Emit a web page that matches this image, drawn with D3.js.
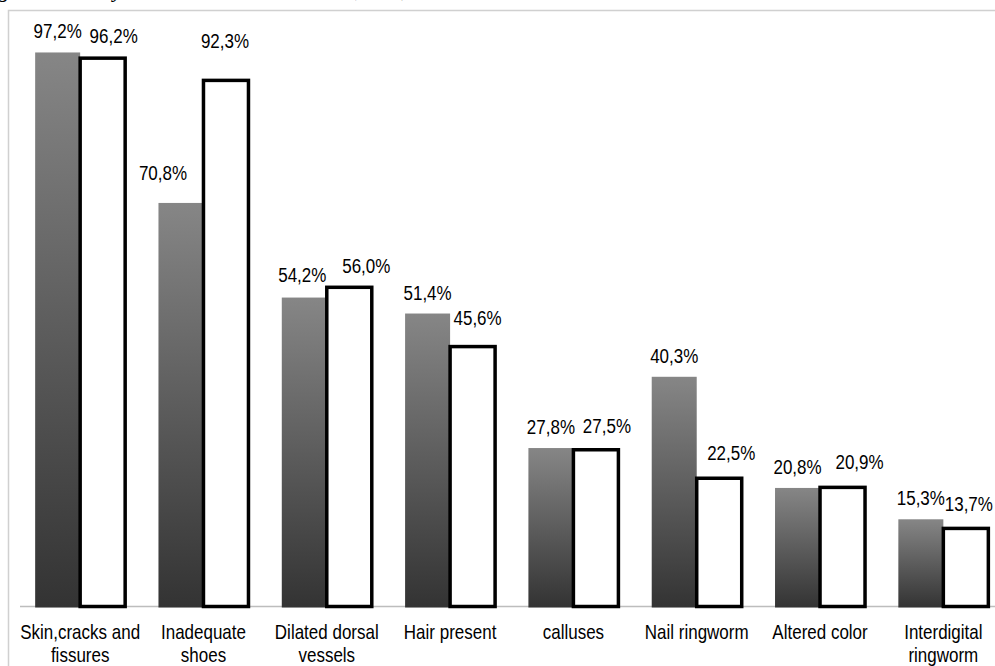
<!DOCTYPE html>
<html>
<head>
<meta charset="utf-8">
<script src="https://cdn.jsdelivr.net/npm/d3@7"></script>
<style>
  body { margin: 0; background: #fff; }
  svg { display: block; }
  text { font-family: "Liberation Sans", Arial, sans-serif; }
</style>
</head>
<body>
<svg id="chart"></svg>
<script>
// Chart data
const categories = [
  "Skin,cracks and\nfissures",
  "Inadequate\nshoes",
  "Dilated dorsal\nvessels",
  "Hair present",
  "calluses",
  "Nail ringworm",
  "Altered color",
  "Interdigital\nringworm"
];
const seriesNames = ["group1", "group2"];
const group1Values = [97.2, 70.8, 54.2, 51.4, 27.8, 40.3, 20.8, 15.3];
const group2Values = [96.2, 92.3, 56.0, 45.6, 27.5, 22.5, 20.9, 13.7];

// Size of the drawing
const width = 995;
const height = 666;
// the original text looks stretched vertically
const textStretch = 1.18;

const svg = d3.select("#chart")
  .attr("width", width)
  .attr("height", height);

// Gradient for the grey bars (light at top, dark at the base)
const defs = svg.append("defs");
const grad = defs.append("linearGradient")
  .attr("id", "greyGrad")
  .attr("x1", 0).attr("y1", 0)
  .attr("x2", 0).attr("y2", 1);
grad.append("stop").attr("offset", "0%").attr("stop-color", "#868686");
grad.append("stop").attr("offset", "100%").attr("stop-color", "#333333");

// Cut-off caption above the chart (only its descenders show)
const caption = svg.append("text")
  .attr("y", -3)
  .style("font-family", "'Liberation Serif', 'Times New Roman', serif")
  .style("font-style", "italic")
  .style("font-size", "22px")
  .attr("fill", "#000");
const captionParts = [
  { t: "Fig", x: -21, w: 31 },
  { t: "ure 2 \u2013 Skin b", x: 10, w: 103 },
  { t: "y", x: 113, w: 10 },
  { t: " the two cohorts studied in 2015", x: 123, w: 232 },
  { t: ", Bahia", x: 355, w: 46 },
  { t: ", Brazil", x: 401, w: 60 }
];
caption.selectAll("tspan")
  .data(captionParts)
  .enter()
  .append("tspan")
  .attr("x", d => d.x)
  .attr("textLength", d => d.w)
  .attr("lengthAdjust", "spacingAndGlyphs")
  .text(d => d.t);

// Light plot-area border (left and top)
svg.append("path")
  .attr("d", "M8.5,666V10.5H995")
  .attr("fill", "none")
  .attr("stroke", "#d0d0d0")
  .attr("stroke-width", 1.5);

// Scales
const x0 = d3.scaleBand()
  .domain(d3.range(categories.length))
  .range([18.5, 1005])
  .padding(0);

const barW = 45;
const x1 = d3.scaleBand()
  .domain(seriesNames)
  .range([0, barW * 2]);

const y = d3.scaleLinear()
  .domain([0, 100])
  .range([606.5, 36.5]);

const groupOffset = (x0.bandwidth() - barW * 2) / 2;
const strokeW = 3.5;

// Baseline
svg.append("line")
  .attr("x1", 20).attr("x2", width)
  .attr("y1", y(0)).attr("y2", y(0))
  .attr("stroke", "#bdbdbd")
  .attr("stroke-width", 1.5);

const rows = categories.map((c, i) => ({
  i: i,
  cat: c,
  vals: [
    { s: "group1", v: group1Values[i] },
    { s: "group2", v: group2Values[i] }
  ]
}));

const groups = svg.selectAll(".grp")
  .data(rows)
  .enter()
  .append("g")
  .attr("class", "grp")
  .attr("transform", d => `translate(${x0(d.i) + groupOffset},0)`);

// Grey gradient bars
groups.append("rect")
  .attr("x", x1("group1"))
  .attr("width", x1.bandwidth())
  .attr("y", d => y(d.vals[0].v))
  .attr("height", d => y(0) - y(d.vals[0].v) + 1)
  .attr("fill", "url(#greyGrad)");

// White bars with thick black outline
groups.append("rect")
  .attr("x", x1("group2"))
  .attr("width", x1.bandwidth())
  .attr("y", d => y(d.vals[1].v))
  .attr("height", d => y(0) - y(d.vals[1].v))
  .attr("fill", "#fff")
  .attr("stroke", "#000")
  .attr("stroke-width", strokeW);

// Label offsets [dx, dy] where the labels were moved off centre
const nudge = {
  "group1-1": [-18, -9],
  "group1-2": [-2, -2],
  "group2-0": [11, 2],
  "group2-1": [-1, -16],
  "group2-2": [17, 2],
  "group2-3": [5, -5],
  "group2-4": [11, 0],
  "group2-5": [12, -2],
  "group2-6": [17, -2],
  "group2-7": [3, -1]
};
const off = d => nudge[d.s + "-" + d.i] || [0, 0];
const labelTop = d => d.s === "group1" ? y(d.v) - 21 : y(d.v) - strokeW / 2 - 22;

groups.selectAll(".val")
  .data(d => d.vals.map(v => ({ ...v, i: d.i })))
  .enter()
  .append("text")
  .attr("class", "val")
  .attr("transform", d => {
    const cx = x1(d.s) + x1.bandwidth() / 2 + off(d)[0];
    const cy = labelTop(d) + off(d)[1] + 7;
    return `translate(${cx},${cy}) scale(1,${textStretch})`;
  })
  .style("text-anchor", "middle")
  .style("font-size", "17px")
  .attr("fill", "#000")
  .text(d => d3.format(".1f")(d.v).replace(".", ",") + "%");

// Category labels, wrapped on "\n"
groups.append("g")
  .attr("transform", `translate(${barW},639) scale(1,${textStretch})`)
  .append("text")
  .attr("class", "cat")
  .style("text-anchor", "middle")
  .style("font-size", "17px")
  .attr("fill", "#000")
  .selectAll("tspan")
  .data(d => d.cat.split("\n"))
  .enter()
  .append("tspan")
  .attr("x", 0)
  .attr("dy", (d, k) => k === 0 ? 0 : 23 / textStretch)
  .text(d => d);
</script>
</body>
</html>
